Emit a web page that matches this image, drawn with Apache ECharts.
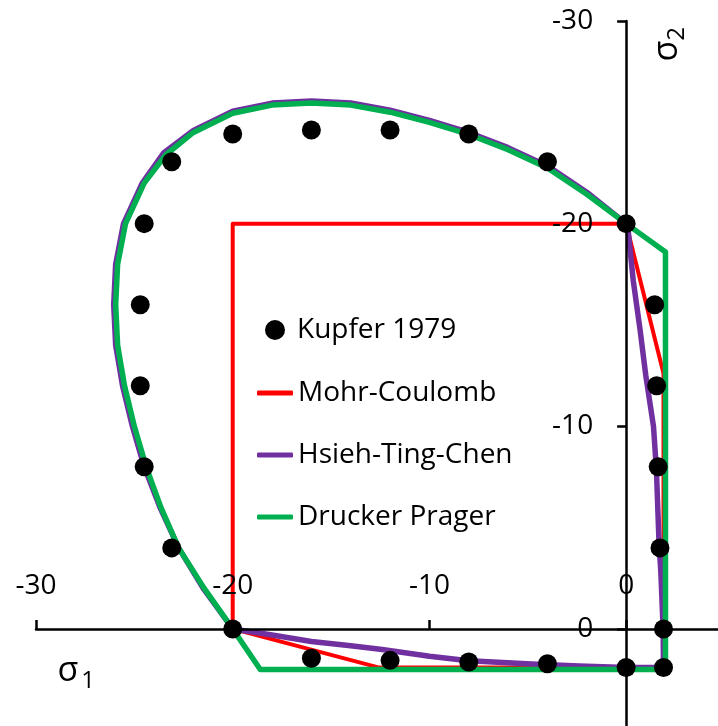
<!DOCTYPE html>
<html>
<head>
<meta charset="utf-8">
<script src="https://cdn.jsdelivr.net/npm/echarts@6/dist/echarts.min.js"></script>
<style>
  html, body { margin: 0; padding: 0; background: #ffffff; }
  #chart { width: 718px; height: 726px; }
</style>
</head>
<body>
<div id="chart"></div>
<script>
const FONT = 'Open Sans';
const tickValues = [-30, -20, -10, 0];

// Kupfer (1979) biaxial test results
const kupferS1 = [0, -4, -8, -12, -16, -20, -23.1, -24.5, -24.7, -24.7, -24.5, -23.1, -20,
                  1.45, 1.55, 1.63, 1.72, 1.9, 1.9,
                  -16, -12, -8, -4, 0];
const kupferS2 = [-20, -23.05, -24.42, -24.62, -24.62, -24.42, -23.05, -20, -16, -12, -8, -4, 0,
                  -16, -12, -8, -4, 0, 1.9,
                  1.45, 1.55, 1.63, 1.72, 1.9];

// Mohr-Coulomb envelope
const mcS1 = [-20, -20, 0, 1.9, 1.9, -12.6, -20];
const mcS2 = [0, -20, -20, -12.6, 1.9, 1.9, 0];

// Hsieh-Ting-Chen envelope
const htcS1 = [0, -2, -4, -6, -8, -10, -12, -14, -16, -18, -20, -22, -23.5,
               -24.6, -25.55, -25.95, -26.05, -25.95, -25.6, -25.1, -24.5, -23.7, -22.75, -21.5, -20,
               -18, -16, -14, -12.4, -10, -8, -4.8, -2.4, 0, 1.9,
               1.88, 1.76, 1.68, 1.54, 1.39, 1.0, 0.71, 0.36, 0.1, 0];
const htcS2 = [-20, -21.55, -22.85, -23.75, -24.5, -25.1, -25.6, -25.95, -26.05, -25.95, -25.55, -24.6, -23.5,
               -22, -20, -18, -16, -14, -12, -10, -8, -6, -4, -2, 0,
               0.3, 0.62, 0.83, 1.02, 1.35, 1.57, 1.73, 1.83, 1.9, 1.9,
               0, -2.9, -4.05, -7.84, -10, -12.5, -14.75, -17.2, -19.7, -20];

// Drucker-Prager envelope with tension cut-off
const dpS1 = [0, -2, -4, -6, -8, -10, -12, -14, -16, -18, -20, -22, -23.4,
              -24.5, -25.45, -25.85, -25.95, -25.85, -25.5, -25.0, -24.4, -23.65, -22.75, -21.45, -20,
              -18.6, 2, 2, 0];
const dpS2 = [-20, -21.45, -22.75, -23.65, -24.4, -25.0, -25.5, -25.85, -25.95, -25.85, -25.45, -24.5, -23.4,
              -22, -20, -18, -16, -14, -12, -10, -8, -6, -4, -2, 0,
              2, 2, -18.6, -20];

const pairs = (xs, ys) => xs.map((x, i) => [x, ys[i]]);

const lineSeries = (name, xs, ys, color, width) => ({
  name, type: 'line', data: pairs(xs, ys), symbol: 'none', smooth: false,
  lineStyle: { color, width, cap: 'round', join: 'round' },
  itemStyle: { color }, z: 2, silent: true
});

const legendText = { fontFamily: FONT, fontSize: 28, color: '#000', lineHeight: 32 };

const lineLegend = (name, color, top) => ({
  data: [{ name, icon: 'roundRect', itemStyle: { color } }],
  left: 257, top, padding: 0, itemWidth: 36, itemHeight: 5,
  textStyle: legendText, selectedMode: false
});

// Plot area and value ranges; the axes cross at the origin
const GRID = { left: 36, top: 21, width: 682, height: 705 };
const X_RANGE = [-30, 4.67];
const Y_RANGE = [-30, 4.79];
const originX = GRID.width * (0 - X_RANGE[0]) / (X_RANGE[1] - X_RANGE[0]);
const originY = GRID.height * (0 - Y_RANGE[0]) / (Y_RANGE[1] - Y_RANGE[0]);

const chart = echarts.init(document.getElementById('chart'));
chart.setOption({
  animation: false,
  grid: Object.assign({ containLabel: false, outerBoundsMode: 'none' }, GRID),
  xAxis: {
    type: 'value', position: 'top', offset: -originY,
    min: X_RANGE[0], max: X_RANGE[1], interval: 10,
    axisLine: { onZero: false, lineStyle: { color: '#000', width: 2.5 } },
    axisTick: { show: true, length: 9, customValues: tickValues,
                lineStyle: { color: '#000', width: 2.5 } },
    axisLabel: { margin: 29, customValues: tickValues,
                 fontFamily: FONT, fontSize: 28, color: '#000' },
    splitLine: { show: false }, z: 10
  },
  yAxis: {
    type: 'value', position: 'left', offset: -originX,
    min: Y_RANGE[0], max: Y_RANGE[1], interval: 10, inverse: true,
    axisLine: { onZero: false, lineStyle: { color: '#000', width: 2.5 } },
    axisTick: { show: true, length: 9, customValues: tickValues,
                lineStyle: { color: '#000', width: 2.5 } },
    axisLabel: { margin: 33, customValues: tickValues,
                 fontFamily: FONT, fontSize: 28, color: '#000' },
    splitLine: { show: false }, z: 10
  },
  legend: [
    {
      data: [{ name: 'Kupfer 1979', icon: 'circle', itemStyle: { color: '#000' } }],
      left: 265, top: 314, padding: 0, itemWidth: 20, itemHeight: 20,
      textStyle: Object.assign({}, legendText, { padding: [0, 0, 0, 7] }),
      selectedMode: false
    },
    lineLegend('Mohr-Coulomb', '#FF0000', 377),
    lineLegend('Hsieh-Ting-Chen', '#7030A0', 439),
    lineLegend('Drucker Prager', '#00B050', 501)
  ],
  graphic: [
    { type: 'text', x: 68, y: 671, style: { text: 'σ', fontFamily: FONT, fontSize: 34, fill: '#000',
      textAlign: 'center', textVerticalAlign: 'middle' } },
    { type: 'text', x: 88, y: 681, style: { text: '1', fontFamily: FONT, fontSize: 24, fill: '#000',
      textAlign: 'center', textVerticalAlign: 'middle' } },
    {
      type: 'group', x: 667, y: 51, rotation: Math.PI / 2,
      children: [
        { type: 'text', x: 0, y: 0, style: { text: 'σ', fontFamily: FONT, fontSize: 34, fill: '#000',
          textAlign: 'center', textVerticalAlign: 'middle' } },
        { type: 'text', x: 17, y: 10, style: { text: '2', fontFamily: FONT, fontSize: 24, fill: '#000',
          textAlign: 'center', textVerticalAlign: 'middle' } }
      ]
    }
  ],
  series: [
    lineSeries('Mohr-Coulomb', mcS1, mcS2, '#FF0000', 4),
    lineSeries('Hsieh-Ting-Chen', htcS1, htcS2, '#7030A0', 5.5),
    lineSeries('Drucker Prager', dpS1, dpS2, '#00B050', 5.5),
    {
      name: 'Kupfer 1979', type: 'scatter', data: pairs(kupferS1, kupferS2),
      symbol: 'circle', symbolSize: 19, itemStyle: { color: '#000', opacity: 1 }, z: 5, silent: true
    }
  ]
});
</script>
</body>
</html>
